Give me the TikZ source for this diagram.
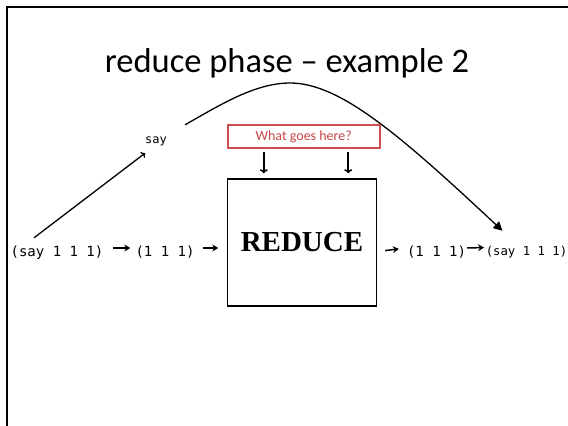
\documentclass[tikz,border=0pt]{standalone}
\usepackage{fontspec}
\newfontfamily\carlito{Carlito}
\newfontfamily\dejamono{DejaVu Sans Mono}
\newfontfamily\libserif{Liberation Serif}
\usetikzlibrary{arrows.meta}
\definecolor{notered}{RGB}{200,70,70}
\definecolor{noteframe}{RGB}{205,80,80}
\begin{document}
\begin{tikzpicture}[x=1pt,y=-1pt,
  heading/.style={font=\carlito\fontsize{34.5}{38}\selectfont, inner sep=0pt, anchor=base},
  code/.style={font=\dejamono\fontsize{14}{16}\selectfont, inner sep=0pt, anchor=base,
    text height=10pt, text depth=3pt},
  smallcode/.style={font=\dejamono\fontsize{12.3}{14}\selectfont, inner sep=0pt, anchor=base,
    text height=9pt, text depth=3pt},
  reducebox/.style={draw, line width=1.5pt, minimum width=149pt, minimum height=127pt,
    inner sep=0pt, font=\libserif\bfseries\fontsize{29}{32}\selectfont},
  notebox/.style={draw=noteframe, line width=1.6pt, text=notered, minimum width=152pt,
    minimum height=22.5pt, inner sep=0pt, font=\carlito\fontsize{14}{16}\selectfont},
  flow/.style={-{Stealth[length=6pt,width=7pt]}, line width=1.5pt},
  feed/.style={-{To[length=4pt,width=8pt]}, line width=1.6pt},
  lift/.style={-{To[length=3.5pt,width=7pt]}, line width=1.3pt},
  carry/.style={-{Triangle[length=9pt,width=9pt]}, line width=1.3pt}]
\useasboundingbox (0,0) rectangle (568,426);
% slide frame
\draw[line width=2pt] (7,426) -- (7,7) -- (568,7);

\node[heading] (title) at (287,72) {reduce phase – example 2};

% main pipeline
\node[code] (in) at (57,256) {(say 1 1 1)};
\node[code] (vals) at (165,256) {(1 1 1)};
\node[reducebox] (reduce) at (302,242.5) {REDUCE};
\node[code] (out) at (436.5,256) {(1 1 1)};
\node[smallcode] (result) at (526.5,255) {(say 1 1 1)};

\draw[flow, shorten <=9pt, shorten >=5pt] ([shift={(0,-4.5)}]in.east) -- ([shift={(0,-4.5)}]vals.west);
\draw[flow, shorten <=8pt, shorten >=8.5pt] ([shift={(0,-4.5)}]vals.east) -- ([shift={(0,-4.5)}]vals.east -| reduce.west);
\draw[flow, shorten <=8pt, shorten >=8pt] ([shift={(0,-4.5)}]reduce.east |- out.base) -- ([shift={(0,-4.5)}]out.west);
\draw[flow, shorten <=1pt, shorten >=1.5pt] ([shift={(0,-4.5)}]out.east) -- ([shift={(0,-4.5)}]result.west);

% the key travels around the reducer
\node[smallcode, font=\dejamono\fontsize{12}{14}\selectfont] (key) at (156,143) {say};
\draw[lift] ([shift={(-23,-8)}]in.north) -- ([shift={(-11,7)}]key.south);
\coordinate (apex) at (290,83);
\draw[carry] ([shift={(18,-9)}]key.north east) .. controls (220,105) and (255,83) .. (apex)
  .. controls (340,83) and (400,135) .. ([shift={(-24,-15)}]result.north);

% question box feeding the reducer
\node[notebox] (note) at (303.75,136.5) {What goes here?};
\coordinate (n1) at ([shift={(-40,0)}]note.south);
\coordinate (n2) at ([shift={(44.5,0)}]note.south);
\draw[feed, shorten <=3pt, shorten >=5pt] (n1) -- (n1 |- reduce.north);
\draw[feed, shorten <=3pt, shorten >=5pt] (n2) -- (n2 |- reduce.north);
\end{tikzpicture}
\end{document}
